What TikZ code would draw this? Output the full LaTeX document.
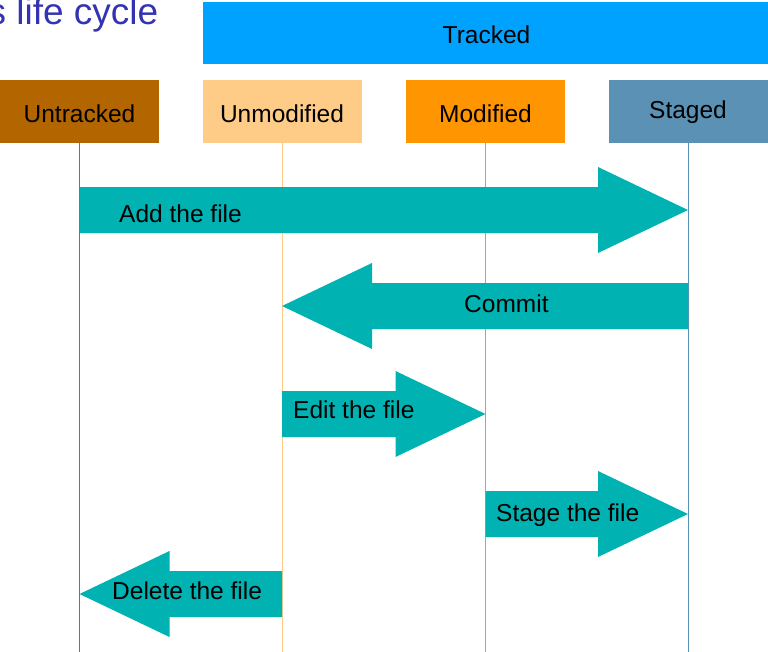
\documentclass[tikz,border=0pt]{standalone}
\usepackage{fontspec}
\setmainfont{Liberation Sans}
\usetikzlibrary{calc}
\definecolor{titleblue}{RGB}{51,51,179}
\definecolor{trackedc}{RGB}{0,162,255}
\definecolor{untrackedc}{RGB}{179,102,0}
\definecolor{unmodc}{RGB}{255,204,136}
\definecolor{modc}{RGB}{255,149,0}
\definecolor{stagedc}{RGB}{90,145,180}
\definecolor{arrowc}{RGB}{0,178,178}
\newcommand\blockarrow[3]{%
  \pgfmathsetmacro\headlen{-90*#3}%
  \fill[arrowfill] ($(#1)+(0,-23)$) -- ($(#2)+(\headlen,-23)$) -- ($(#2)+(\headlen,-43)$) -- (#2)
    -- ($(#2)+(\headlen,43)$) -- ($(#2)+(\headlen,23)$) -- ($(#1)+(0,23)$) -- cycle;}
\begin{document}
\begin{tikzpicture}[x=1pt,y=-1pt,
  statebox/.style={draw=none, inner sep=0pt, minimum width=159pt, minimum height=63pt,
    font=\fontsize{24.5}{29}\selectfont, text height=21pt, text depth=0pt},
  lifeline/.style={line width=1pt},
  arrowfill/.style={fill=arrowc},
  arrowtext/.style={inner sep=0pt, anchor=base west, font=\fontsize{24.5}{29}\selectfont}]
\useasboundingbox (0,0) rectangle (768,651);
\clip (0,0) rectangle (768,651);
% title
\node[inner sep=0pt, anchor=base east, text=titleblue, font=\fontsize{37}{44}\selectfont] (title) at (158.5,24) {s life cycle};
% boxes
\node[statebox, fill=trackedc, minimum width=567pt, minimum height=62pt] (tracked) at (486.5,33) {Tracked};
\node[statebox, fill=untrackedc] (untracked) at (79.5,111.5) {Untracked};
\node[statebox, fill=unmodc] (unmod) at (282,111.5) {Unmodified};
\node[statebox, fill=modc] (mod) at (485.5,111.5) {Modified};
\node[statebox, fill=stagedc, text depth=8pt] (staged) at (688,111.5) {Staged};
% lifelines
\coordinate (bottom) at (0,652);
\draw[lifeline, untrackedc] (untracked.south) -- (untracked.south |- bottom);
\draw[lifeline, unmodc] (unmod.south) -- (unmod.south |- bottom);
\draw[lifeline, modc] (mod.south) -- (mod.south |- bottom);
\draw[lifeline, stagedc] (staged.south) -- (staged.south |- bottom);
% arrow end points
\coordinate (addS) at (untracked.south |- 0,210);
\coordinate (addE) at (staged.south |- 0,210);
\coordinate (comS) at (staged.south |- 0,306);
\coordinate (comE) at (unmod.south |- 0,306);
\coordinate (editS) at (unmod.south |- 0,414);
\coordinate (editE) at (mod.south |- 0,414);
\coordinate (stS) at (mod.south |- 0,514);
\coordinate (stE) at (staged.south |- 0,514);
\coordinate (delS) at (unmod.south |- 0,594);
\coordinate (delE) at (untracked.south |- 0,594);
\blockarrow{addS}{addE}{1}
\blockarrow{comS}{comE}{-1}
\blockarrow{editS}{editE}{1}
\blockarrow{stS}{stE}{1}
\blockarrow{delS}{delE}{-1}
% arrow labels
\node[arrowtext] (addL) at (119,222) {Add the file};
\node[arrowtext] (comL) at (464,312) {Commit};
\node[arrowtext] (editL) at (293,418) {Edit the file};
\node[arrowtext] (stL) at (496,521) {Stage the file};
\node[arrowtext] (delL) at (112,599) {Delete the file};
\end{tikzpicture}
\end{document}
